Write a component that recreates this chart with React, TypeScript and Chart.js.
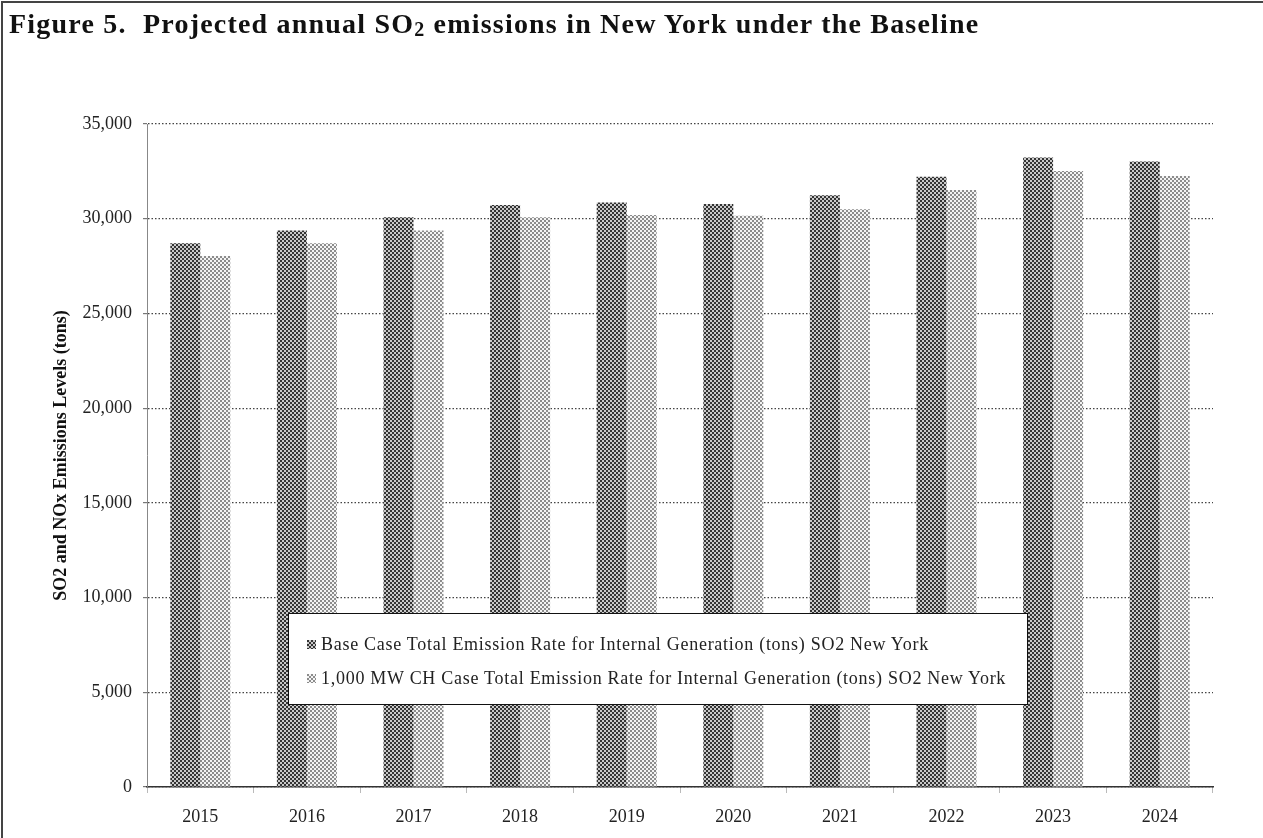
import React, { useEffect, useRef } from "react";
import { Chart, registerables } from "chart.js";

Chart.register(...registerables);

// Projected annual SO2 emissions (tons), New York
const years = ["2015", "2016", "2017", "2018", "2019", "2020", "2021", "2022", "2023", "2024"];
const baseCase = [28700, 29380, 30080, 30720, 30850, 30780, 31240, 32220, 33230, 33020];
const chCase = [28030, 28700, 29380, 30080, 30200, 30150, 30500, 31520, 32520, 32260];
const seriesLabels = [
  "Base Case Total Emission Rate for Internal Generation (tons) SO2 New York",
  "1,000 MW CH Case Total Emission Rate for Internal Generation (tons) SO2 New York",
];
const yAxisTitle = "SO2 and NOx Emissions Levels (tons)";
const yMax = 35000;
const yStep = 5000;

const SERIF = "'Liberation Serif', 'Times New Roman', serif";

// Small halftone tile used as a bar fill
function makeTile(bg: string, dot: string): HTMLCanvasElement {
  const c = document.createElement("canvas");
  c.width = 4;
  c.height = 4;
  const g = c.getContext("2d")!;
  g.fillStyle = bg;
  g.fillRect(0, 0, 4, 4);
  g.fillStyle = dot;
  g.fillRect(0, 0, 2, 2);
  g.fillRect(2, 2, 2, 2);
  return c;
}

export default function App() {
  const canvasRef = useRef<HTMLCanvasElement>(null);
  const swatchRefs = [useRef<HTMLSpanElement>(null), useRef<HTMLSpanElement>(null)];

  useEffect(() => {
    document.body.style.margin = "0";
    const tiles = [makeTile("#c8c8c8", "#333333"), makeTile("#f4f4f4", "#8c8c8c")];
    const ctx = canvasRef.current!.getContext("2d")!;
    const fills = tiles.map((t) => ctx.createPattern(t, "repeat")!);
    swatchRefs.forEach((r, i) => {
      if (r.current) r.current.style.backgroundImage = `url(${tiles[i].toDataURL()})`;
    });

    const chart = new Chart(ctx, {
      type: "bar",
      data: {
        labels: years,
        datasets: [
          { label: seriesLabels[0], data: baseCase, backgroundColor: fills[0], borderWidth: 0 },
          { label: seriesLabels[1], data: chCase, backgroundColor: fills[1], borderWidth: 0 },
        ],
      },
      options: {
        responsive: false,
        animation: false,
        layout: { padding: { top: 124, right: 50, left: 0, bottom: 0 } },
        datasets: { bar: { barPercentage: 1, categoryPercentage: 0.563 } },
        plugins: { legend: { display: false }, tooltip: { enabled: false }, title: { display: false } },
        scales: {
          x: {
            grid: {
              display: true,
              drawOnChartArea: false,
              drawTicks: true,
              tickLength: 6,
              tickColor: "#777",
              tickBorderDash: [1, 1],
              offset: true,
            },
            border: { display: true, color: "#333", width: 1.5, dash: [1.5, 2] },
            ticks: { color: "#222", padding: 13, font: { family: SERIF, size: 18 } },
            afterFit: (s: any) => {
              s.height = 51;
            },
          },
          y: {
            min: 0,
            max: yMax,
            ticks: {
              stepSize: yStep,
              color: "#222",
              padding: 11,
              font: { family: SERIF, size: 18 },
              callback: (v: any) => Number(v).toLocaleString("en-US"),
            },
            grid: { color: "#444", lineWidth: 1.2, tickLength: 4, drawTicks: true, tickColor: "#777" },
            border: { display: true, color: "#888", width: 1, dash: [1.5, 2] },
            title: {
              display: true,
              text: yAxisTitle,
              color: "#111",
              font: { family: SERIF, size: 18, weight: "bold" },
              padding: { top: 51, bottom: 0 },
            },
            afterFit: (s: any) => {
              s.width = 147;
            },
          },
        },
      },
    });
    return () => chart.destroy();
  }, []);

  return (
    <div style={{ position: "fixed", left: 0, top: 0, width: 1263, height: 838, background: "#fff", overflow: "hidden" }}>
      <canvas ref={canvasRef} width={1263} height={838} style={{ position: "absolute", left: 0, top: 0 }} />
      <div
        style={{
          position: "absolute",
          left: 1,
          top: 1,
          width: 1300,
          height: 900,
          borderLeft: "2px solid #444",
          borderTop: "2px solid #444",
          pointerEvents: "none",
        }}
      />
      <div
        style={{
          position: "absolute",
          left: 9,
          top: 10,
          font: `bold 28px ${SERIF}`,
          lineHeight: "28px",
          letterSpacing: "1.2px",
          color: "#111",
          whiteSpace: "nowrap",
        }}
      >
        Figure 5.&nbsp; Projected annual SO<sub style={{ fontSize: "20px", verticalAlign: "-3px" }}>2</sub> emissions in New
        York under the Baseline
      </div>
      <div
        style={{
          position: "absolute",
          left: 288,
          top: 613,
          width: 740,
          height: 92,
          border: "1.5px solid #111",
          background: "#fff",
          boxSizing: "border-box",
          font: `18px ${SERIF}`,
          letterSpacing: "0.72px",
          color: "#222",
        }}
      >
        {seriesLabels.map((lab, i) => (
          <div
            key={i}
            style={{ position: "absolute", left: 18, top: i === 0 ? 19 : 53, whiteSpace: "nowrap", lineHeight: "22px" }}
          >
            <span
              ref={swatchRefs[i]}
              style={{ display: "inline-block", width: 9, height: 9, marginRight: 5, verticalAlign: "1px" }}
            />
            {lab}
          </div>
        ))}
      </div>
    </div>
  );
}
